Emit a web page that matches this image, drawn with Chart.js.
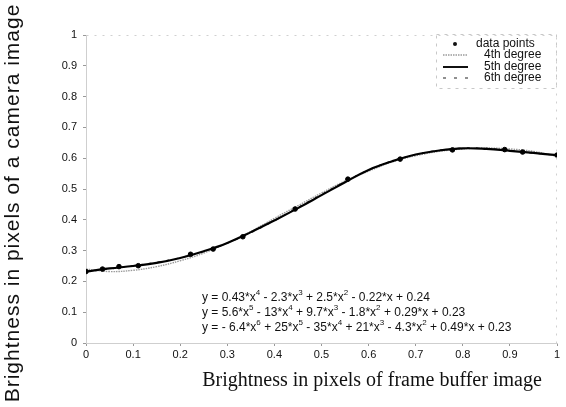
<!DOCTYPE html>
<html>
<head>
<meta charset="utf-8">
<script src="https://cdn.jsdelivr.net/npm/chart.js@4/dist/chart.umd.min.js"></script>
<style>
  html,body{margin:0;padding:0;background:#fff;}
  #wrap{width:566px;height:407px;}
</style>
</head>
<body>
<div id="wrap"><canvas id="c" width="566" height="407"></canvas></div>
<script>
// ---- data ----
const curveX   = [0,0.05,0.1,0.15,0.2,0.25,0.3,0.35,0.4,0.45,0.5,0.55,0.6,0.65,0.7,0.75,0.8,0.85,0.9,0.95,1];
const fit4th   = [0.240,0.232,0.236,0.248,0.267,0.292,0.325,0.362,0.405,0.446,0.487,0.526,0.558,0.588,0.608,0.622,0.630,0.633,0.630,0.622,0.606];
const fit5th   = [0.232,0.242,0.250,0.260,0.276,0.298,0.325,0.360,0.398,0.438,0.480,0.522,0.562,0.590,0.612,0.625,0.632,0.630,0.624,0.617,0.610];
const fit6th   = [0.232,0.240,0.251,0.262,0.277,0.297,0.324,0.358,0.397,0.440,0.482,0.524,0.562,0.591,0.612,0.626,0.633,0.632,0.625,0.616,0.610];
const pointsX  = [0,0.035,0.07,0.111,0.222,0.27,0.333,0.444,0.556,0.667,0.778,0.889,0.927,1];
const pointsY  = [0.232,0.240,0.248,0.251,0.288,0.305,0.345,0.435,0.532,0.597,0.627,0.628,0.620,0.610];
const xTickLabels = ["0","0.1","0.2","0.3","0.4","0.5","0.6","0.7","0.8","0.9","1"];
const yTickLabels = ["0","0.1","0.2","0.3","0.4","0.5","0.6","0.7","0.8","0.9","1"];
const legendLabels = ["data points","4th degree","5th degree","6th degree"];
const equations = [
  "y = 0.43*x^4 - 2.3*x^3 + 2.5*x^2 - 0.22*x + 0.24",
  "y = 5.6*x^5 - 13*x^4 + 9.7*x^3 - 1.8*x^2 + 0.29*x + 0.23",
  "y = - 6.4*x^6 + 25*x^5 - 35*x^4 + 21*x^3 - 4.3*x^2 + 0.49*x + 0.23"
];
const xTitle = "Brightness in pixels of frame buffer image";
const yTitle = "Brightness in pixels of a camera image";

const toXY = (xs, ys) => xs.map((x, i) => ({x: x, y: ys[i]}));

function drawRich(ctx, str, x, y, size) {
  const parts = str.split(/\^(\d)/);
  let cx = x;
  parts.forEach((p, i) => {
    if (i % 2 === 0) {
      ctx.font = size + "px 'Liberation Sans', Arial, sans-serif";
      ctx.fillText(p, cx, y);
      cx += ctx.measureText(p).width;
    } else {
      ctx.font = Math.round(size * 0.7) + "px 'Liberation Sans', Arial, sans-serif";
      ctx.fillText(p, cx, y - size * 0.45);
      cx += ctx.measureText(p).width;
    }
  });
}

const decor = {
  id: 'decor',
  afterDraw(chart) {
    const ctx = chart.ctx;
    const a = chart.chartArea;
    ctx.save();
    // faint frame
    ctx.strokeStyle = '#d0d0d0';
    ctx.lineWidth = 1;
    ctx.setLineDash([2, 6]);
    ctx.beginPath();
    ctx.moveTo(a.left + 0.5, a.top + 0.5);
    ctx.lineTo(a.right - 0.5, a.top + 0.5);
    ctx.lineTo(a.right - 0.5, a.bottom);
    ctx.stroke();
    ctx.setLineDash([]);

    // equations
    ctx.fillStyle = '#111';
    ctx.textBaseline = 'middle';
    ctx.textAlign = 'left';
    const ys = [298, 313, 328];
    equations.forEach((e, i) => drawRich(ctx, e, 202, ys[i], 12));

    // legend
    const lx = 436, ly = 34, lw = 120, lh = 54;
    ctx.strokeStyle = '#c8c8c8';
    ctx.setLineDash([3, 5]);
    ctx.strokeRect(lx + 0.5, ly + 0.5, lw, lh);
    ctx.setLineDash([]);
    const rows = [44, 55, 67, 78];
    ctx.font = "12px 'Liberation Sans', Arial, sans-serif";
    ctx.fillStyle = '#111';
    legendLabels.forEach((t, i) => ctx.fillText(t, i === 0 ? 476 : 484, rows[i]));
    // marker: dot
    ctx.beginPath();
    ctx.arc(455, rows[0], 2, 0, Math.PI * 2);
    ctx.fill();
    // 4th
    ctx.strokeStyle = '#9a9a9a'; ctx.lineWidth = 1.5; ctx.setLineDash([1.5, 1]);
    ctx.beginPath(); ctx.moveTo(443, rows[1]); ctx.lineTo(468, rows[1]); ctx.stroke();
    // 5th
    ctx.strokeStyle = '#111'; ctx.lineWidth = 2; ctx.setLineDash([]);
    ctx.beginPath(); ctx.moveTo(443, rows[2]); ctx.lineTo(468, rows[2]); ctx.stroke();
    // 6th
    ctx.strokeStyle = '#222'; ctx.lineWidth = 1.2; ctx.setLineDash([3, 8]);
    ctx.beginPath(); ctx.moveTo(443, rows[3]); ctx.lineTo(468, rows[3]); ctx.stroke();
    ctx.setLineDash([]);

    // axis titles
    ctx.fillStyle = '#111';
    ctx.textAlign = 'center';
    ctx.textBaseline = 'middle';
    ctx.font = "20px 'Liberation Serif', 'Times New Roman', serif";
    ctx.fillText(xTitle, 372, 381);
    ctx.save();
    ctx.translate(13, 203);
    ctx.rotate(-Math.PI / 2);
    ctx.font = "21px 'Liberation Sans', Arial, sans-serif";
    ctx.letterSpacing = '1px';
    ctx.fillText(yTitle, 0, 0);
    ctx.restore();
    ctx.restore();
  }
};

new Chart(document.getElementById('c'), {
  type: 'scatter',
  data: {
    datasets: [
      { label: legendLabels[0], data: toXY(pointsX, pointsY), backgroundColor: '#000', borderColor: '#000', pointRadius: 2.3, showLine: false, order: 0 },
      { label: legendLabels[1], data: toXY(curveX, fit4th), showLine: true, borderColor: '#9a9a9a', borderWidth: 1.4, borderDash: [1.5, 1], pointRadius: 0, tension: 0.4, order: 3 },
      { label: legendLabels[2], data: toXY(curveX, fit5th), showLine: true, borderColor: '#000', borderWidth: 2.2, pointRadius: 0, tension: 0.4, order: 1 },
      { label: legendLabels[3], data: toXY(curveX, fit6th), showLine: true, borderColor: '#333', borderWidth: 1.2, borderDash: [3, 6], pointRadius: 0, tension: 0.4, order: 2 }
    ]
  },
  options: {
    responsive: false,
    animation: false,
    devicePixelRatio: 1,
    layout: { padding: { top: 35, right: 9, left: 0, bottom: 0 } },
    plugins: { legend: { display: false }, tooltip: { enabled: false } },
    scales: {
      x: {
        type: 'linear', min: 0, max: 1,
        afterFit: s => { s.height = 64; },
        ticks: { stepSize: 0.1, color: '#111', padding: 2, maxRotation: 0,
                 font: { family: "'Liberation Sans', Arial, sans-serif", size: 11 },
                 callback: (v, i) => xTickLabels[i] },
        grid: { display: true, drawOnChartArea: false, drawTicks: true, tickLength: 3, color: '#999' },
        border: { display: true, color: '#cfcfcf' }
      },
      y: {
        type: 'linear', min: 0, max: 1,
        afterFit: s => { s.width = 86; },
        ticks: { stepSize: 0.1, color: '#111', padding: 6,
                 font: { family: "'Liberation Sans', Arial, sans-serif", size: 11 },
                 callback: (v, i) => yTickLabels[i] },
        grid: { display: true, drawOnChartArea: false, drawTicks: true, tickLength: 3, color: '#999' },
        border: { display: true, color: '#cfcfcf' }
      }
    }
  },
  plugins: [decor]
});
</script>
</body>
</html>
